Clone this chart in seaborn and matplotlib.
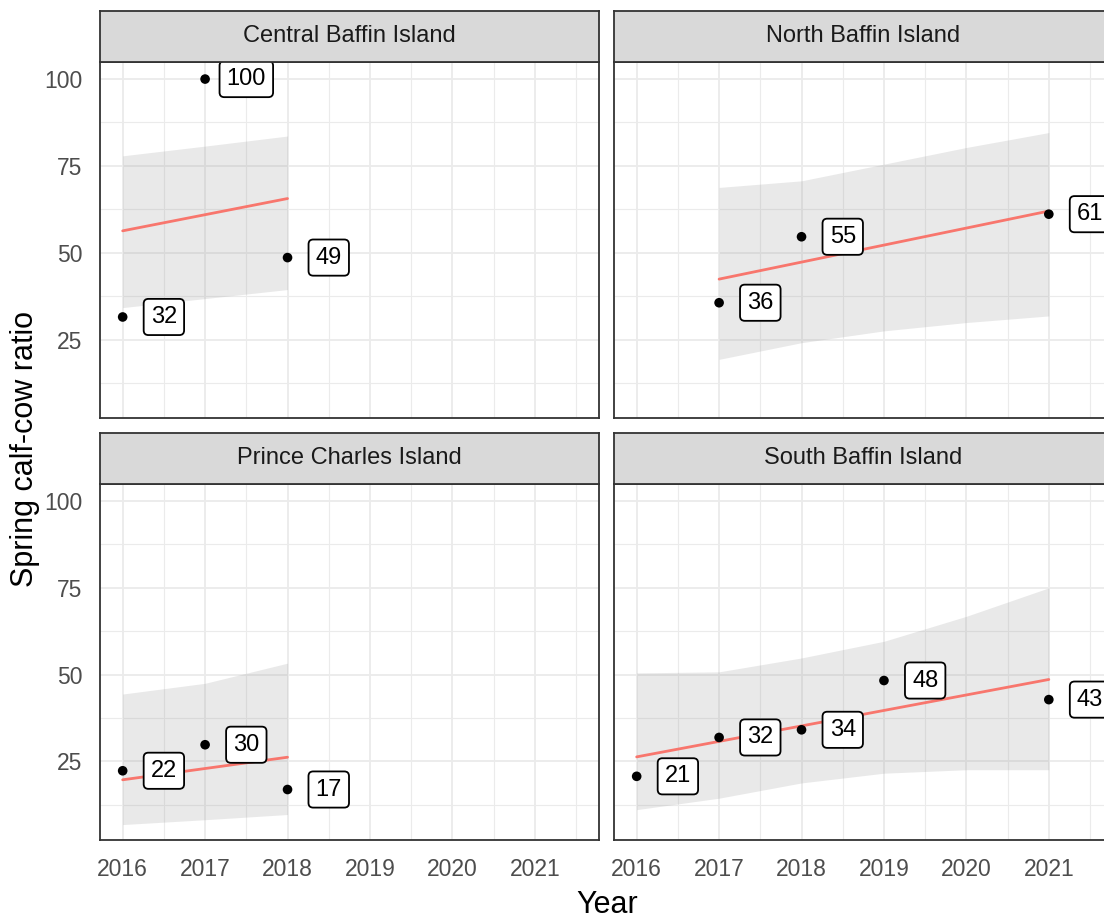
import numpy as np
import pandas as pd
import matplotlib
matplotlib.use('Agg')
import matplotlib.pyplot as plt
import seaborn as sns

# Facet names, in panel order (left->right, top->bottom)
regions = ['Central Baffin Island', 'North Baffin Island',
           'Prince Charles Island', 'South Baffin Island']

# observed spring calf-cow ratios and their printed labels
central_years = [2016, 2017, 2018]
central_ratio = [31.5, 100, 48.6]
central_labels = ['32', '100', '49']

north_years = [2017, 2018, 2021]
north_ratio = [35.6, 54.6, 61.1]
north_labels = ['36', '55', '61']

prince_years = [2016, 2017, 2018]
prince_ratio = [22.3, 29.8, 16.9]
prince_labels = ['22', '30', '17']

south_years = [2016, 2017, 2018, 2019, 2021]
south_ratio = [20.7, 31.9, 34.1, 48.3, 42.8]
south_labels = ['21', '32', '34', '48', '43']

# trend line (start / end) and confidence band edges
central_fit_x = [2016, 2018]
central_fit_y = [56.3, 65.6]
central_band_x = [2016, 2017, 2018]
central_band_lo = [34.2, 36.8, 39.4]
central_band_hi = [77.9, 80.7, 83.6]

north_fit_x = [2017, 2021]
north_fit_y = [42.4, 62.0]
north_band_x = [2017, 2018, 2019, 2020, 2021]
north_band_lo = [19.3, 24.1, 27.5, 29.9, 31.8]
north_band_hi = [68.8, 70.7, 75.5, 80.3, 84.6]

prince_fit_x = [2016, 2018]
prince_fit_y = [19.7, 26.2]
prince_band_x = [2016, 2017, 2018]
prince_band_lo = [6.8, 8.2, 9.7]
prince_band_hi = [44.4, 47.5, 53.3]

south_fit_x = [2016, 2021]
south_fit_y = [26.3, 48.6]
south_band_x = [2016, 2017, 2018, 2019, 2020, 2021]
south_band_lo = [11.1, 14.4, 18.8, 21.6, 22.6, 22.6]
south_band_hi = [50.5, 50.8, 54.8, 59.6, 66.8, 75.0]

year_ticks = [2016, 2017, 2018, 2019, 2020, 2021]
ratio_ticks = [25, 50, 75, 100]

# put the points together in one long table
pts = pd.concat([
    pd.DataFrame({'region': regions[0], 'year': central_years, 'ratio': central_ratio, 'label': central_labels}),
    pd.DataFrame({'region': regions[1], 'year': north_years, 'ratio': north_ratio, 'label': north_labels}),
    pd.DataFrame({'region': regions[2], 'year': prince_years, 'ratio': prince_ratio, 'label': prince_labels}),
    pd.DataFrame({'region': regions[3], 'year': south_years, 'ratio': south_ratio, 'label': south_labels}),
], ignore_index=True)

fits = {
    regions[0]: (central_fit_x, central_fit_y, central_band_x, central_band_lo, central_band_hi),
    regions[1]: (north_fit_x, north_fit_y, north_band_x, north_band_lo, north_band_hi),
    regions[2]: (prince_fit_x, prince_fit_y, prince_band_x, prince_band_lo, prince_band_hi),
    regions[3]: (south_fit_x, south_fit_y, south_band_x, south_band_lo, south_band_hi),
}

sns.set_style('white')
plt.rcParams['font.family'] = ['Liberation Sans', 'DejaVu Sans']

W, H = 1104, 918
fig = plt.figure(figsize=(W / 100, H / 100), dpi=100)

# panel boxes in pixels: (left, right) and (top, bottom); right column runs off the edge
col_x = [(100, 598.7), (614, 1112.7)]
row_y = [(61.7, 417.7), (483.7, 839.5)]
strip_y = [(10.7, 61.7), (433.3, 483.7)]

border = '#333333'

for i, region in enumerate(regions):
    r, c = divmod(i, 2)
    x0, x1 = col_x[c]
    y0, y1 = row_y[r]
    ax = fig.add_axes([x0 / W, 1 - y1 / H, (x1 - x0) / W, (y1 - y0) / H])

    fx, fy, bx, blo, bhi = fits[region]
    sub = pts[pts['region'] == region]

    ax.fill_between(bx, blo, bhi, color='#999999', alpha=0.21, lw=0, zorder=1)
    sns.lineplot(x=fx, y=fy, ax=ax, color='#F8766D', lw=2.0, zorder=2)
    sns.scatterplot(data=sub, x='year', y='ratio', ax=ax, color='black',
                    s=48, edgecolor='none', zorder=3)
    for _, row in sub.iterrows():
        ax.text(row['year'] + 0.5, row['ratio'], row['label'], ha='center', va='center',
                fontsize=17, color='black', zorder=4, clip_on=True,
                bbox=dict(boxstyle='round,pad=0.3,rounding_size=0.2',
                          fc='white', ec='black', lw=1.3))

    ax.set_xlim(2015.725, 2021.775)
    ax.set_ylim(2.5, 105.0)
    ax.set_xticks(year_ticks)
    ax.set_xticks([y + 0.5 for y in year_ticks], minor=True)
    ax.set_yticks(ratio_ticks)
    ax.set_yticks([12.5, 37.5, 62.5, 87.5], minor=True)
    ax.set_axisbelow(True)
    ax.grid(which='major', color='#EBEBEB', lw=1.3)
    ax.grid(which='minor', color='#EBEBEB', lw=0.8)
    ax.set_xlabel('')
    ax.set_ylabel('')
    for sp in ax.spines.values():
        sp.set_color(border)
        sp.set_linewidth(1.3)
    ax.tick_params(which='minor', length=0)
    ax.tick_params(which='major', length=5, width=1.1, color=border,
                   labelcolor='#4D4D4D', labelsize=16.5)
    ax.tick_params(axis='y', pad=7.5)
    ax.tick_params(axis='x', pad=8)
    if r == 0:
        ax.tick_params(axis='x', bottom=False, labelbottom=False)
    if c == 1:
        ax.tick_params(axis='y', left=False, labelleft=False)

    # facet strip
    s0, s1 = strip_y[r]
    sax = fig.add_axes([x0 / W, 1 - s1 / H, (x1 - x0) / W, (s1 - s0) / H])
    sax.set_facecolor('#D9D9D9')
    sax.set_xticks([])
    sax.set_yticks([])
    for sp in sax.spines.values():
        sp.set_color(border)
        sp.set_linewidth(1.3)
    sax.text(0.5, 0.5, region, transform=sax.transAxes, ha='center', va='center',
             fontsize=17, color='#1A1A1A')

fig.text(607 / W, 1 - 905 / H, 'Year', ha='center', va='center', fontsize=22, color='black')
fig.text(25 / W, 1 - 449 / H, 'Spring calf-cow ratio', ha='center', va='center',
         rotation=90, fontsize=22, color='black')

fig.savefig('out.png', dpi=100)
